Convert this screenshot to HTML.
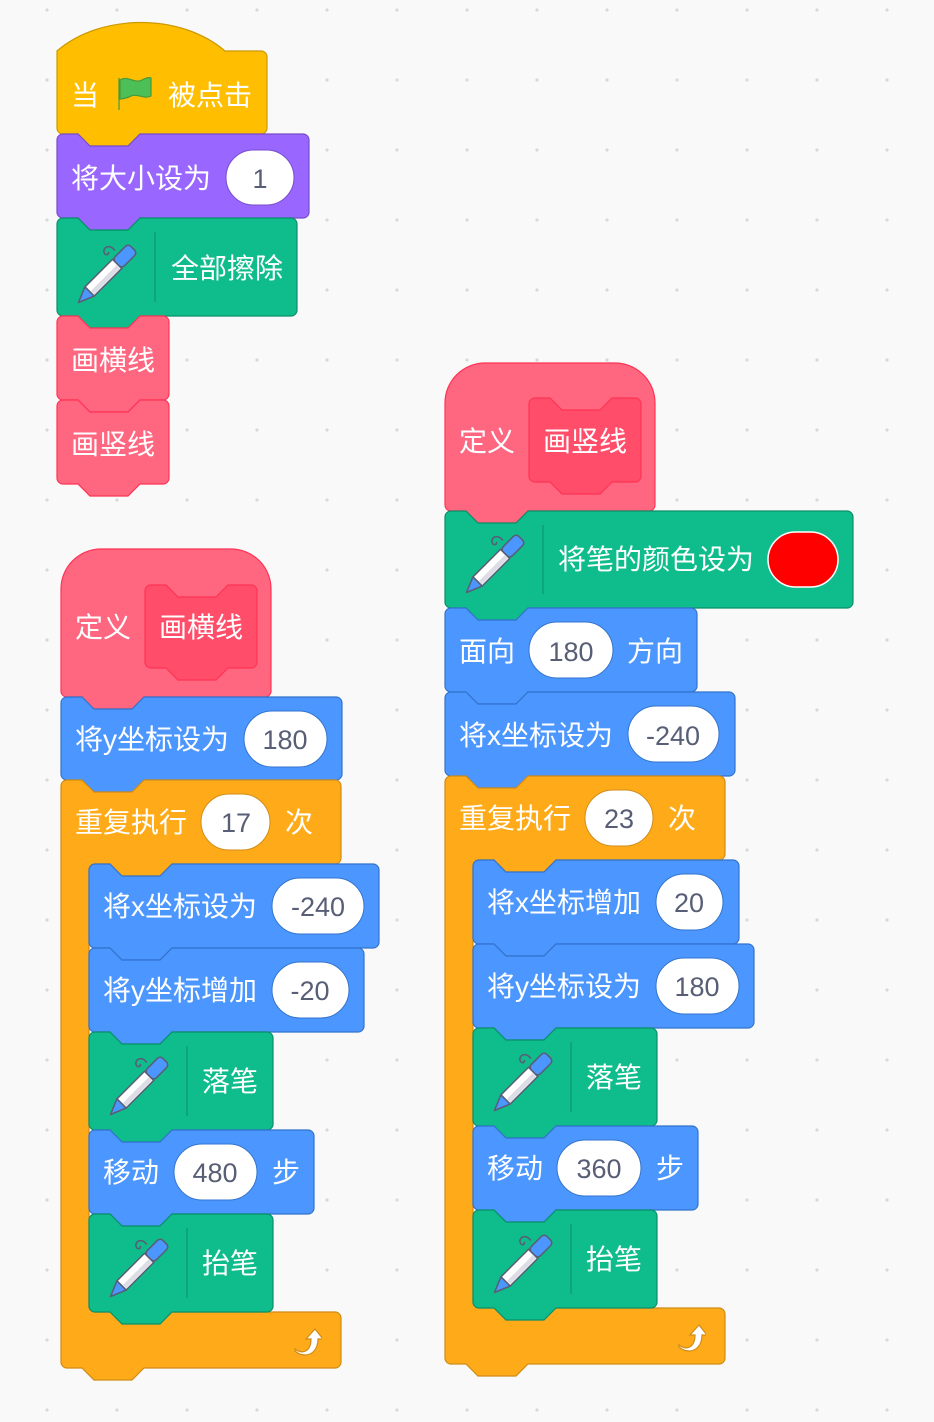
<!DOCTYPE html>
<html><head><meta charset="utf-8"><style>
html,body{margin:0;padding:0;background:#F9F9F9;}
svg{display:block}
text{font-family:"Liberation Sans","Noto Sans CJK SC",sans-serif;font-size:28px;fill:#fff}
text.n{fill:#575E75;font-size:27px;text-anchor:middle}
path.y{fill:#FFBF00;stroke:#CC9900}
path.p{fill:#9966FF;stroke:#774DCB}
path.g{fill:#0FBD8C;stroke:#0B8E69}
path.k{fill:#FF6680;stroke:#FF3355}
path.d{fill:#FF4D6A;stroke:#FF3355}
path.b{fill:#4C97FF;stroke:#3373CC}
path.o{fill:#FFAB19;stroke:#CF8B17}
path{stroke-width:1.2}
rect.ov{fill:#fff;stroke:#3373CC;stroke-width:1}
</style></head><body>
<svg width="934" height="1422" viewBox="0 0 934 1422" xmlns="http://www.w3.org/2000/svg">
<defs>
<pattern id="dots" x="47" y="10" width="70" height="70" patternUnits="userSpaceOnUse"><circle cx="0" cy="0" r="1.6" fill="#D9D9D9"/><circle cx="70" cy="0" r="1.6" fill="#D9D9D9"/><circle cx="0" cy="70" r="1.6" fill="#D9D9D9"/><circle cx="70" cy="70" r="1.6" fill="#D9D9D9"/></pattern>
<symbol id="pen" viewBox="0 0 60 60">
<path d="M36 12 c-4 -6 -10 -2 -8 2 c1 2 4 1 3 -1" fill="none" stroke="#575E75" stroke-width="1.2"/>
<g transform="rotate(45 30 30)">
<rect x="25" y="2" width="10" height="17" rx="3" fill="#4C97FF" stroke="#575E75" stroke-width="1.2"/>
<rect x="25" y="19" width="10" height="30" fill="#fff" stroke="#575E75" stroke-width="1.2"/>
<rect x="30.5" y="20" width="3.5" height="28" fill="#DDDDE5"/>
<path d="M25 49 L35 49 L30 61 Z" fill="#4C97FF" stroke="#575E75" stroke-width="1.2" stroke-linejoin="round"/>
</g>
</symbol>
<symbol id="arr" viewBox="0 0 30 30">
<path d="M3 23 c8 6 16 2 16 -10 l-5 0 l9 -10 l8 10 l-5 0 c0 16 -14 20 -23 12z" fill="#fff" stroke="#CF8B17" stroke-width="1"/>
</symbol>
</defs>
<rect width="934" height="1422" fill="url(#dots)"/>

<path class="y" d="M57 51 c44 -38 124 -38 168 0 H261 a6 6 0 0 1 6 6 V128 a6 6 0 0 1 -6 6 H140 l-12 12 h-38 l-12 -12 H63 a6 6 0 0 1 -6 -6 Z"/>
<path class="p" d="M57 140a6 6 0 0 1 6-6h15l12 12h38l12-12h163a6 6 0 0 1 6 6v72a6 6 0 0 1-6 6h-163l-12 12h-38l-12-12h-15a6 6 0 0 1-6-6z"/>
<path class="g" d="M57 224a6 6 0 0 1 6-6h15l12 12h38l12-12h151a6 6 0 0 1 6 6v86a6 6 0 0 1-6 6h-151l-12 12h-38l-12-12h-15a6 6 0 0 1-6-6z"/>
<path class="k" d="M57 322a6 6 0 0 1 6-6h15l12 12h38l12-12h23a6 6 0 0 1 6 6v72a6 6 0 0 1-6 6h-23l-12 12h-38l-12-12h-15a6 6 0 0 1-6-6z"/>
<path class="k" d="M57 406a6 6 0 0 1 6-6h15l12 12h38l12-12h23a6 6 0 0 1 6 6v72a6 6 0 0 1-6 6h-23l-12 12h-38l-12-12h-15a6 6 0 0 1-6-6z"/>

<path class="k" d="M61 589 a40 40 0 0 1 40 -40 H231 a40 40 0 0 1 40 40 V691 a6 6 0 0 1 -6 6 H144 l-12 12 h-38 l-12 -12 H67 a6 6 0 0 1 -6 -6 Z"/>
<path class="d" d="M145 591a6 6 0 0 1 6-6h15l12 12h38l12-12h23a6 6 0 0 1 6 6v71a6 6 0 0 1-6 6h-23l-12 12h-38l-12-12h-15a6 6 0 0 1-6-6z"/>
<path class="b" d="M61 703a6 6 0 0 1 6-6h15l12 12h38l12-12h192a6 6 0 0 1 6 6v71a6 6 0 0 1-6 6h-192l-12 12h-38l-12-12h-15a6 6 0 0 1-6-6z"/>
<path class="o" d="M61 786 a6 6 0 0 1 6 -6 H82 l12 12 h38 l12 -12 H335 a6 6 0 0 1 6 6 V858 a6 6 0 0 1 -6 6 H172 l-12 12 h-38 l-12 -12 H95 a6 6 0 0 0 -6 6 V1306 a6 6 0 0 0 6 6 H335 a6 6 0 0 1 6 6 V1362 a6 6 0 0 1 -6 6 H144 l-12 12 h-38 l-12 -12 H67 a6 6 0 0 1 -6 -6 Z"/>
<path class="b" d="M89 870a6 6 0 0 1 6-6h15l12 12h38l12-12h201a6 6 0 0 1 6 6v72a6 6 0 0 1-6 6h-201l-12 12h-38l-12-12h-15a6 6 0 0 1-6-6z"/>
<path class="b" d="M89 954a6 6 0 0 1 6-6h15l12 12h38l12-12h186a6 6 0 0 1 6 6v72a6 6 0 0 1-6 6h-186l-12 12h-38l-12-12h-15a6 6 0 0 1-6-6z"/>
<path class="g" d="M89 1038a6 6 0 0 1 6-6h15l12 12h38l12-12h95a6 6 0 0 1 6 6v86a6 6 0 0 1-6 6h-95l-12 12h-38l-12-12h-15a6 6 0 0 1-6-6z"/>
<path class="b" d="M89 1136a6 6 0 0 1 6-6h15l12 12h38l12-12h136a6 6 0 0 1 6 6v72a6 6 0 0 1-6 6h-136l-12 12h-38l-12-12h-15a6 6 0 0 1-6-6z"/>
<path class="g" d="M89 1220a6 6 0 0 1 6-6h15l12 12h38l12-12h95a6 6 0 0 1 6 6v86a6 6 0 0 1-6 6h-95l-12 12h-38l-12-12h-15a6 6 0 0 1-6-6z"/>

<path class="k" d="M445 403 a40 40 0 0 1 40 -40 H615 a40 40 0 0 1 40 40 V505 a6 6 0 0 1 -6 6 H528 l-12 12 h-38 l-12 -12 H451 a6 6 0 0 1 -6 -6 Z"/>
<path class="d" d="M529 404a6 6 0 0 1 6-6h15l12 12h38l12-12h23a6 6 0 0 1 6 6v72a6 6 0 0 1-6 6h-23l-12 12h-38l-12-12h-15a6 6 0 0 1-6-6z"/>
<path class="g" d="M445 517a6 6 0 0 1 6-6h15l12 12h38l12-12h319a6 6 0 0 1 6 6v85a6 6 0 0 1-6 6h-319l-12 12h-38l-12-12h-15a6 6 0 0 1-6-6z"/>
<path class="b" d="M445 614a6 6 0 0 1 6-6h15l12 12h38l12-12h163a6 6 0 0 1 6 6v72a6 6 0 0 1-6 6h-163l-12 12h-38l-12-12h-15a6 6 0 0 1-6-6z"/>
<path class="b" d="M445 698a6 6 0 0 1 6-6h15l12 12h38l12-12h201a6 6 0 0 1 6 6v72a6 6 0 0 1-6 6h-201l-12 12h-38l-12-12h-15a6 6 0 0 1-6-6z"/>
<path class="o" d="M445 782 a6 6 0 0 1 6 -6 H466 l12 12 h38 l12 -12 H719 a6 6 0 0 1 6 6 V854 a6 6 0 0 1 -6 6 H556 l-12 12 h-38 l-12 -12 H479 a6 6 0 0 0 -6 6 V1302 a6 6 0 0 0 6 6 H719 a6 6 0 0 1 6 6 V1358 a6 6 0 0 1 -6 6 H528 l-12 12 h-38 l-12 -12 H451 a6 6 0 0 1 -6 -6 Z"/>
<path class="b" d="M473 866a6 6 0 0 1 6-6h15l12 12h38l12-12h177a6 6 0 0 1 6 6v72a6 6 0 0 1-6 6h-177l-12 12h-38l-12-12h-15a6 6 0 0 1-6-6z"/>
<path class="b" d="M473 950a6 6 0 0 1 6-6h15l12 12h38l12-12h192a6 6 0 0 1 6 6v72a6 6 0 0 1-6 6h-192l-12 12h-38l-12-12h-15a6 6 0 0 1-6-6z"/>
<path class="g" d="M473 1034a6 6 0 0 1 6-6h15l12 12h38l12-12h95a6 6 0 0 1 6 6v86a6 6 0 0 1-6 6h-95l-12 12h-38l-12-12h-15a6 6 0 0 1-6-6z"/>
<path class="b" d="M473 1132a6 6 0 0 1 6-6h15l12 12h38l12-12h136a6 6 0 0 1 6 6v72a6 6 0 0 1-6 6h-136l-12 12h-38l-12-12h-15a6 6 0 0 1-6-6z"/>
<path class="g" d="M473 1216a6 6 0 0 1 6-6h15l12 12h38l12-12h95a6 6 0 0 1 6 6v86a6 6 0 0 1-6 6h-95l-12 12h-38l-12-12h-15a6 6 0 0 1-6-6z"/>

<line x1="155" y1="232" x2="155" y2="302" stroke="#0B8E69" stroke-width="1"/>
<line x1="187" y1="1046" x2="187" y2="1116" stroke="#0B8E69" stroke-width="1"/>
<line x1="187" y1="1228" x2="187" y2="1298" stroke="#0B8E69" stroke-width="1"/>
<line x1="543" y1="525" x2="543" y2="594" stroke="#0B8E69" stroke-width="1"/>
<line x1="571" y1="1042" x2="571" y2="1112" stroke="#0B8E69" stroke-width="1"/>
<line x1="571" y1="1224" x2="571" y2="1294" stroke="#0B8E69" stroke-width="1"/>
<use href="#pen" x="68" y="235" width="78" height="78"/>
<use href="#pen" x="100" y="1047" width="78" height="78"/>
<use href="#pen" x="100" y="1229" width="78" height="78"/>
<use href="#pen" x="456" y="525" width="78" height="78"/>
<use href="#pen" x="484" y="1043" width="78" height="78"/>
<use href="#pen" x="484" y="1225" width="78" height="78"/>
<use href="#arr" x="292" y="1326" width="30" height="30"/>
<use href="#arr" x="676" y="1322" width="30" height="30"/>
<path d="M119 110 V78" stroke="#45993D" stroke-width="3"/>
<path d="M120 80 c8 -5 14 4 22 0 c4 -2 7 -3 9 -2 v18 c-8 4 -14 -4 -22 1 c-3 1 -6 2 -9 2z" fill="#4CBF56" stroke="#45993D" stroke-width="1.5"/>

<rect class="ov" x="226" y="150" width="68" height="55" rx="27.5" style="stroke:#774DCB"/>
<rect class="ov" x="244" y="711" width="83" height="56" rx="28"/>
<rect class="ov" x="201" y="794" width="69" height="56" rx="28" style="stroke:#CF8B17"/>
<rect class="ov" x="272" y="878" width="92" height="56" rx="28"/>
<rect class="ov" x="272" y="962" width="77" height="56" rx="28"/>
<rect class="ov" x="174" y="1144" width="83" height="56" rx="28"/>
<rect class="ov" x="529" y="622" width="84" height="56" rx="28"/>
<rect class="ov" x="628" y="706" width="91" height="56" rx="28"/>
<rect class="ov" x="585" y="790" width="68" height="56" rx="28" style="stroke:#CF8B17"/>
<rect class="ov" x="656" y="874" width="67" height="56" rx="28"/>
<rect class="ov" x="656" y="958" width="83" height="56" rx="28"/>
<rect class="ov" x="557" y="1140" width="84" height="56" rx="28"/>
<rect x="768" y="532" width="70" height="55" rx="27.5" fill="#FF0000" stroke="#fff" stroke-width="1.5"/>

<text x="71" y="105">当</text><text x="168" y="105">被点击</text>
<text x="71" y="188">将大小设为</text><text class="n" x="260" y="188">1</text>
<text x="171" y="278">全部擦除</text>
<text x="71" y="370">画横线</text>
<text x="71" y="454">画竖线</text>
<text x="75" y="637">定义</text><text x="159" y="637">画横线</text>
<text x="75" y="749">将y坐标设为</text><text class="n" x="285" y="749">180</text>
<text x="75" y="832">重复执行</text><text class="n" x="236" y="832">17</text><text x="285" y="832">次</text>
<text x="103" y="916">将x坐标设为</text><text class="n" x="318" y="916">-240</text>
<text x="103" y="1000">将y坐标增加</text><text class="n" x="310" y="1000">-20</text>
<text x="202" y="1091">落笔</text>
<text x="103" y="1182">移动</text><text class="n" x="215" y="1182">480</text><text x="272" y="1182">步</text>
<text x="202" y="1273">抬笔</text>
<text x="459" y="451">定义</text><text x="543" y="451">画竖线</text>
<text x="558" y="569">将笔的颜色设为</text>
<text x="459" y="661">面向</text><text class="n" x="571" y="661">180</text><text x="627" y="661">方向</text>
<text x="459" y="745">将x坐标设为</text><text class="n" x="673" y="745">-240</text>
<text x="459" y="828">重复执行</text><text class="n" x="619" y="828">23</text><text x="668" y="828">次</text>
<text x="487" y="912">将x坐标增加</text><text class="n" x="689" y="912">20</text>
<text x="487" y="996">将y坐标设为</text><text class="n" x="697" y="996">180</text>
<text x="586" y="1087">落笔</text>
<text x="487" y="1178">移动</text><text class="n" x="599" y="1178">360</text><text x="656" y="1178">步</text>
<text x="586" y="1269">抬笔</text>
</svg>
</body></html>
